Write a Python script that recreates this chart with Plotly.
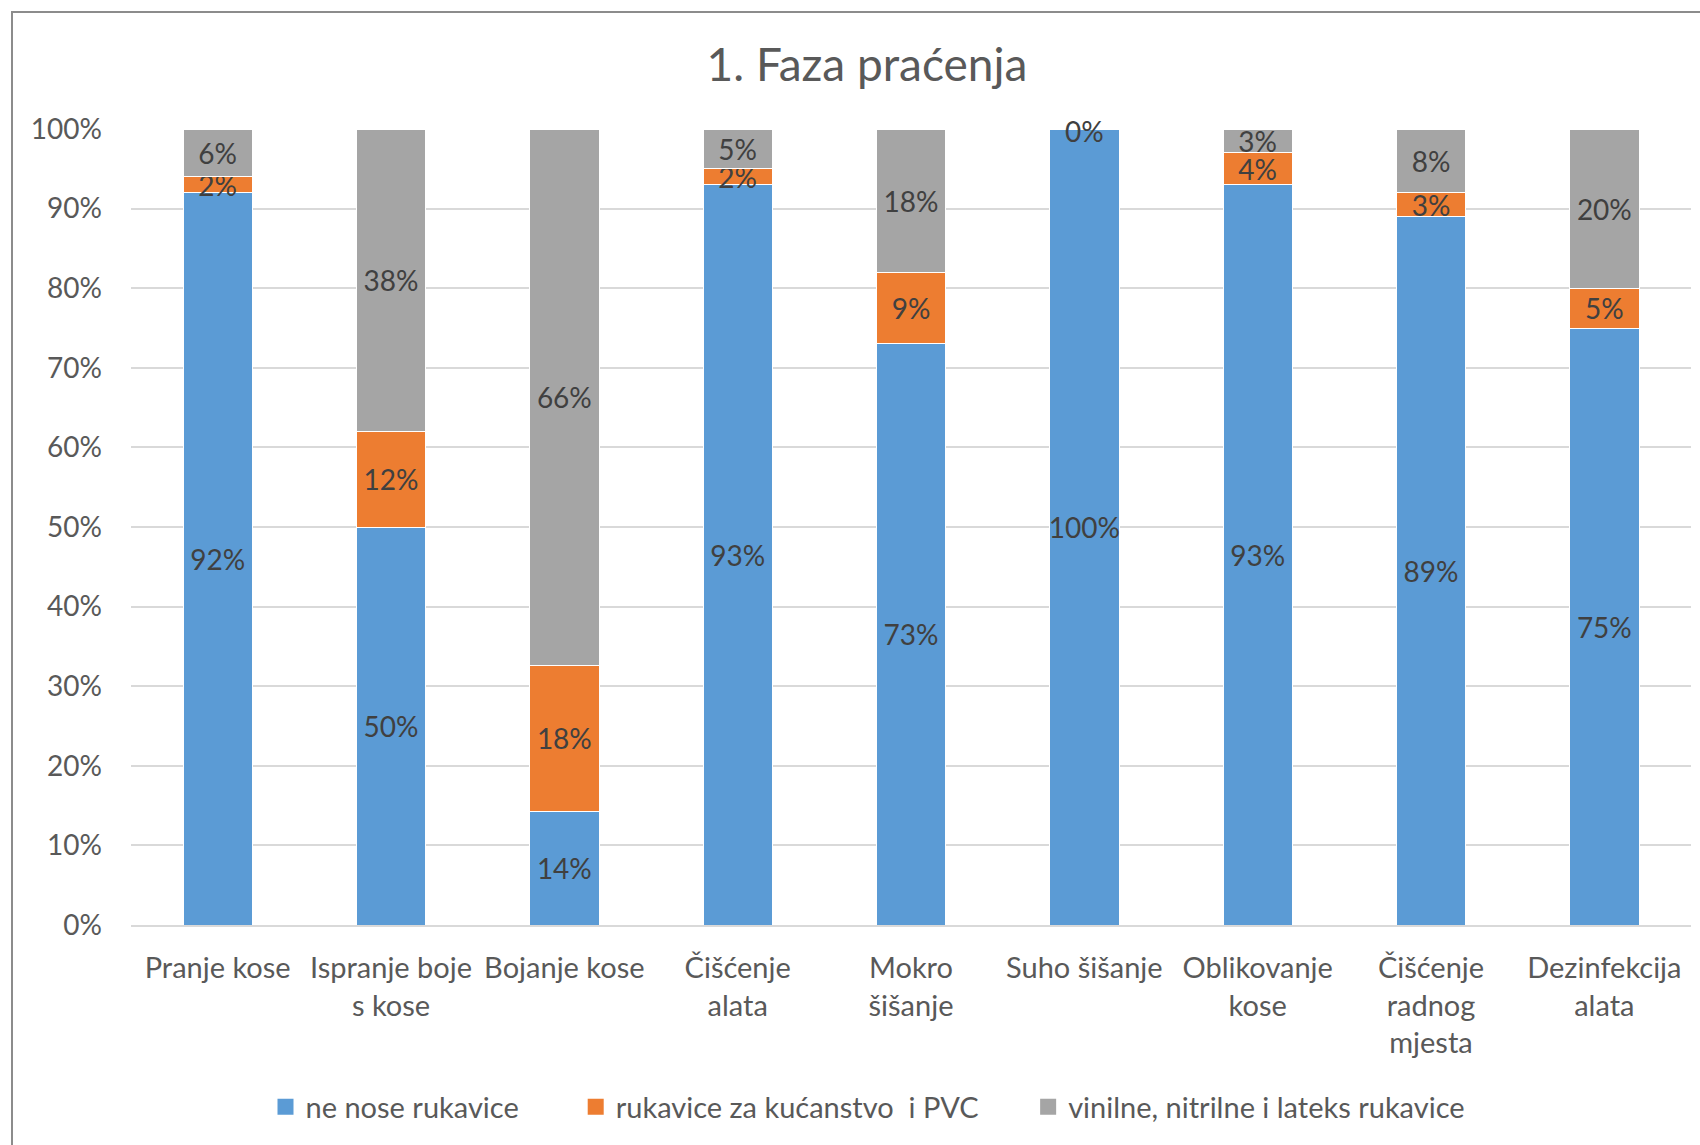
import plotly.graph_objects as go

categories = ["Pranje kose", "Ispranje boje s kose", "Bojanje kose", "Čišćenje alata",
              "Mokro šišanje", "Suho šišanje", "Oblikovanje kose",
              "Čišćenje radnog mjesta", "Dezinfekcija alata"]
tick_labels = ["Pranje kose", "Ispranje boje<br>s kose", "Bojanje kose", "Čišćenje<br>alata",
               "Mokro<br>šišanje", "Suho šišanje", "Oblikovanje<br>kose",
               "Čišćenje<br>radnog<br>mjesta", "Dezinfekcija<br>alata"]
ne_nose = [92, 50, 14, 93, 73, 100, 93, 89, 75]
kucanstvo_pvc = [2, 12, 18, 2, 9, 0, 4, 3, 5]
vinil_nitril_lateks = [6, 38, 66, 5, 18, 0, 3, 8, 20]
series_names = ["ne nose rukavice", "rukavice za kućanstvo  i PVC",
                "vinilne, nitrilne i lateks rukavice"]
colors = ["#5B9BD5", "#ED7D31", "#A5A5A5"]

FONT = "Lato"
W, H = 1700, 1145
ml, mr, mt, mb = 131, 9, 129, 220

fig = go.Figure()
for name, vals, col in zip(series_names, [ne_nose, kucanstvo_pvc, vinil_nitril_lateks], colors):
    fig.add_trace(go.Bar(
        x=categories, y=vals, name=name, showlegend=False,
        marker=dict(color=col, line=dict(color="white", width=1)),
        text=[f"{v}%" if v != 0 else "" for v in vals],
        textposition="inside", insidetextanchor="middle", constraintext="none",
        textangle=0,
        textfont=dict(family=FONT, size=28, color="#404040"),
        hoverinfo="x+y+name",
    ))

# legend entries with larger square keys
pads = ["\u00a0" * 7, "\u00a0" * 6, ""]
for name, col, pad in zip(series_names, colors, pads):
    fig.add_trace(go.Scatter(
        x=[None], y=[None], mode="markers", name=name + pad,
        marker=dict(symbol="square", size=16, color=col), showlegend=True,
    ))

annotations = []
for c, p, g in zip(categories, kucanstvo_pvc, vinil_nitril_lateks):
    if g == 0:
        annotations.append(dict(x=c, y=100, xref="x", yref="y", text=f"{g}%",
                                showarrow=False, yanchor="middle", yshift=-2,
                                font=dict(family=FONT, size=28, color="#404040")))

px = lambda v: (v - ml) / (W - ml - mr)
py = lambda v: 1 - (v - mt) / (H - mt - mb)
shapes = [dict(type="rect", xref="paper", yref="paper",
               x0=px(12), x1=px(1720), y0=py(1160), y1=py(12),
               line=dict(color="#8C8C8C", width=2), fillcolor="rgba(0,0,0,0)", layer="below")]

fig.update_layout(
    width=W, height=H,
    margin=dict(l=ml, r=mr, t=mt, b=mb),
    barmode="stack", barnorm="percent", bargap=0.6,
    paper_bgcolor="white", plot_bgcolor="white",
    title=dict(text="1. Faza praćenja", x=867 / W, xanchor="center", xref="container",
               y=1 - 65 / H, yanchor="middle", yref="container",
               font=dict(family=FONT, size=46, color="#595959")),
    xaxis=dict(tickmode="array", tickvals=categories, ticktext=tick_labels,
               tickfont=dict(family=FONT, size=29, color="#595959"),
               showgrid=False, showline=True, linecolor="#D9D9D9", linewidth=2,
               ticks="", ticklabelstandoff=16, tickangle=0, automargin=False),
    yaxis=dict(range=[0, 100], tickvals=list(range(0, 101, 10)),
               ticktext=[f"{v}%" for v in range(0, 101, 10)],
               tickfont=dict(family=FONT, size=28, color="#595959"),
               showgrid=True, gridcolor="#D9D9D9", gridwidth=2, automargin=False,
               zeroline=False, showline=False, ticks="", ticklabelstandoff=28),
    legend=dict(orientation="h", x=px(868), xanchor="center",
                y=py(1107), yanchor="middle",
                font=dict(family=FONT, size=29, color="#595959"),
                itemwidth=30, traceorder="normal"),
    annotations=annotations,
    shapes=shapes,
    showlegend=True,
)

fig.write_html("out.html", post_script="document.body.style.margin='0';",
               config={"displayModeBar": False})
